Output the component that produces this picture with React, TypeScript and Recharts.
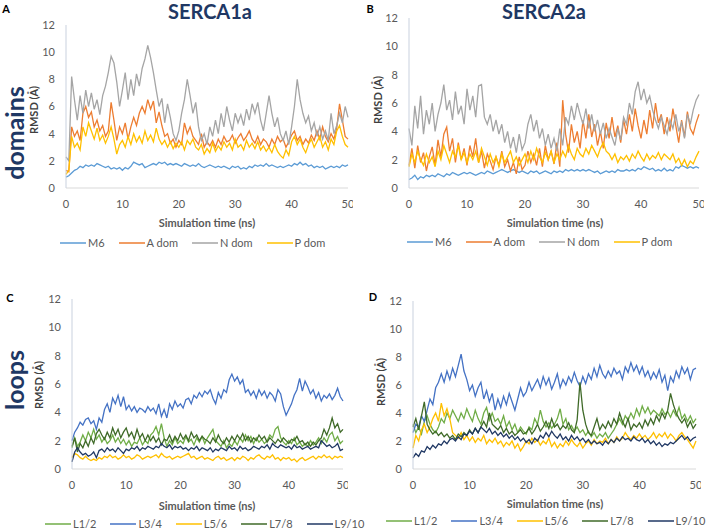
import { LineChart, Line, XAxis, YAxis } from "recharts";

// sample times (ns), every 0.5 ns
const TIME_NS = [
  0, 0.5, 1, 1.5, 2, 2.5, 3, 3.5, 4, 4.5,
  5, 5.5, 6, 6.5, 7, 7.5, 8, 8.5, 9, 9.5,
  10, 10.5, 11, 11.5, 12, 12.5, 13, 13.5, 14, 14.5,
  15, 15.5, 16, 16.5, 17, 17.5, 18, 18.5, 19, 19.5,
  20, 20.5, 21, 21.5, 22, 22.5, 23, 23.5, 24, 24.5,
  25, 25.5, 26, 26.5, 27, 27.5, 28, 28.5, 29, 29.5,
  30, 30.5, 31, 31.5, 32, 32.5, 33, 33.5, 34, 34.5,
  35, 35.5, 36, 36.5, 37, 37.5, 38, 38.5, 39, 39.5,
  40, 40.5, 41, 41.5, 42, 42.5, 43, 43.5, 44, 44.5,
  45, 45.5, 46, 46.5, 47, 47.5, 48, 48.5, 49, 49.5,
  50,
];

// A: SERCA1a domains
const A_M6 = [
  0.8, 0.9, 1.1, 1.3, 1.4, 1.6, 1.5, 1.7, 1.6, 1.7,
  1.6, 1.8, 1.7, 1.6, 1.5, 1.6, 1.4, 1.5, 1.4, 1.5,
  1.3, 1.5, 1.4, 1.6, 1.9, 1.8, 1.7, 1.8, 1.5, 1.6,
  1.7, 1.8, 1.7, 1.9, 1.8, 1.9, 1.7, 1.8, 1.7, 1.8,
  1.7, 1.6, 1.8, 1.7, 1.6, 1.7, 1.6, 1.8, 1.6, 1.5,
  1.6, 1.7, 1.6, 1.5, 1.6, 1.5, 1.6, 1.5, 1.4, 1.6,
  1.5, 1.6, 1.4, 1.5, 1.4, 1.6, 1.5, 1.7, 1.6, 1.7,
  1.6, 1.8, 1.6, 1.7, 1.6, 1.5, 1.6, 1.5, 1.6, 1.7,
  1.6, 1.8, 1.7, 1.9, 1.7, 1.8, 1.6, 1.7, 1.5, 1.6,
  1.5, 1.6, 1.4, 1.5, 1.6, 1.5, 1.6, 1.5, 1.7, 1.6,
  1.7,
];
const A_ADOM = [
  1.3, 1.2, 4.5, 3.8, 4.2, 3.5, 5.5, 6.0, 5.2, 5.6,
  4.5, 5.0, 4.2, 4.6, 3.8, 4.2, 6.3, 5.0, 3.5, 4.5,
  4.0, 4.8, 3.6, 4.5, 5.2, 4.6, 5.5, 6.0, 5.5, 6.5,
  5.8, 6.4, 4.8, 5.6, 4.6, 3.8, 4.0, 3.3, 3.6, 3.0,
  3.5, 3.2, 4.8, 4.0, 4.5, 3.8, 3.5, 3.2, 4.0, 3.0,
  3.4, 3.1, 3.5, 3.0, 3.6, 3.2, 3.8, 3.4, 3.5, 3.9,
  3.3, 3.7, 4.0, 3.5, 3.8, 4.2, 3.6, 3.3, 3.8, 3.2,
  3.6, 3.4, 3.0, 3.6, 3.2, 3.8, 3.4, 3.6, 3.0, 3.4,
  3.9, 4.2, 3.5, 3.8, 3.2, 3.6, 3.3, 3.9, 3.5, 4.2,
  3.6, 4.5, 3.8, 3.4, 4.0, 3.6, 4.4, 6.2, 5.0, 3.8,
  3.6,
];
const A_NDOM = [
  2.3, 2.0, 8.2, 6.5, 5.0, 6.8, 5.5, 7.2, 6.0, 7.0,
  5.8, 6.5, 5.4, 6.8, 7.5, 8.5, 9.7, 9.2, 7.8, 6.0,
  7.2, 8.5, 6.5, 8.0, 6.8, 8.4, 7.5, 8.8, 9.5, 10.5,
  9.6, 8.5, 7.2, 6.0, 6.6, 4.8, 6.2, 5.2, 4.0, 3.5,
  4.2, 5.5, 6.5, 8.0, 6.8, 5.5, 6.3, 4.5, 3.5, 4.0,
  3.2, 4.5, 3.8, 5.0, 4.0, 5.5, 4.5, 6.0, 5.0, 4.2,
  5.5, 4.8, 5.4, 4.6, 5.8, 5.0, 6.2, 5.5, 6.3, 5.0,
  4.2, 5.5, 6.8, 5.5, 4.5, 5.2, 4.0, 3.5, 4.2, 3.2,
  4.5, 6.0, 8.0, 6.5, 5.5, 4.8, 5.3, 4.2, 4.8, 3.8,
  4.5, 3.6, 4.2, 3.5, 5.5, 4.0, 4.6, 5.5, 4.8, 6.0,
  5.2,
];
const A_PDOM = [
  1.0, 1.3, 3.8, 3.0, 3.3, 2.8, 4.5, 3.8, 4.8, 4.2,
  3.6, 4.4, 3.5, 3.9, 3.3, 3.8, 4.5, 3.6, 2.5, 3.2,
  3.5, 3.0, 3.8, 3.2, 4.0, 3.4, 3.8, 3.3, 4.2, 3.5,
  3.9, 3.4, 4.4, 3.6, 3.2, 3.5, 3.0, 3.4, 2.9, 3.3,
  3.0, 3.4, 2.8, 3.5, 3.2, 3.6, 3.0, 2.8, 3.2, 2.5,
  2.9, 2.6, 3.3, 2.7, 3.1, 2.8, 3.4, 3.0, 3.3, 2.8,
  3.6, 3.0, 3.2, 2.8, 3.5, 3.0, 3.3, 2.9, 3.4, 2.8,
  3.1, 2.7, 3.0, 2.6, 3.2, 2.7, 2.4, 2.2, 2.8, 2.4,
  3.4, 3.8, 3.2, 3.6, 3.0, 2.6, 3.2, 3.6, 3.0, 3.4,
  3.8, 3.0, 3.4, 2.8, 3.6, 3.2, 4.2, 4.6, 3.8, 3.2,
  3.0,
];

// B: SERCA2a domains
const B_M6 = [
  0.6, 0.7, 0.9, 0.6, 0.8, 0.7, 0.9, 0.8, 0.9, 0.8,
  1.0, 0.9, 0.8, 1.0, 0.9, 1.1, 1.0, 0.9, 1.0, 1.1,
  1.0, 1.1, 1.0, 0.9, 1.0, 1.1, 1.0, 1.2, 1.1, 1.0,
  1.1, 1.2, 1.3, 1.2, 1.1, 1.2, 1.3, 1.2, 1.1, 1.2,
  1.1, 1.0, 1.2, 1.1, 1.2, 1.0, 1.1, 1.2, 1.1, 1.0,
  1.2, 1.1, 1.2, 1.1, 1.3, 1.2, 1.3, 1.2, 1.3, 1.2,
  1.3, 1.2, 1.3, 1.2, 1.1, 1.2, 1.0, 1.1, 1.2, 1.1,
  1.2, 1.1, 1.3, 1.2, 1.2, 1.3, 1.2, 1.3, 1.2, 1.4,
  1.3, 1.5, 1.4, 1.3, 1.4, 1.2, 1.3, 1.2, 1.4, 1.2,
  1.3, 1.2, 1.5, 1.4, 1.6, 1.5, 1.4, 1.5, 1.4, 1.5,
  1.4,
];
const B_ADOM = [
  1.6, 2.8, 1.4, 3.0, 1.8, 2.5, 1.2, 2.2, 2.9, 1.6,
  3.4, 2.2, 3.8, 4.3, 2.6, 3.5, 1.8, 3.2, 2.0, 2.8,
  1.6, 3.0, 2.2, 3.5, 1.8, 2.6, 1.4, 2.4, 1.9, 1.3,
  2.2, 1.6, 2.6, 1.5, 2.0, 1.2, 1.8, 1.0, 2.2, 1.3,
  1.6, 2.6, 1.8, 2.4, 1.6, 2.8, 1.5, 3.0, 2.0, 2.6,
  1.7, 3.2, 1.5, 6.2, 3.8, 2.5, 4.5, 3.2, 4.0, 2.8,
  4.8, 3.5, 5.2, 3.6, 4.5, 3.0, 4.0, 2.8, 4.6, 3.5,
  5.0, 3.6, 4.4, 3.2, 4.8, 3.8, 5.2, 4.0, 5.6, 4.4,
  3.5, 4.8, 3.8, 5.5, 4.2, 6.0, 4.6, 5.2, 3.8, 5.0,
  4.0, 5.6, 4.4, 3.2, 4.8, 3.6, 5.4, 4.2, 3.8, 4.6,
  5.2,
];
const B_NDOM = [
  4.2, 3.0, 5.8, 4.2, 6.5, 3.8, 5.5, 4.5, 6.0, 4.0,
  5.2, 6.0, 7.3, 5.5, 6.2, 4.8, 6.8, 5.2, 5.8, 4.5,
  7.0, 5.5, 6.5, 5.0, 7.2, 7.3, 5.0, 4.5, 5.2, 4.0,
  4.8, 3.8, 4.5, 3.2, 4.0, 2.8, 3.6, 2.5, 3.8, 2.7,
  3.2, 4.5, 5.2, 4.0, 4.8, 3.5, 4.2, 3.0, 3.8, 2.8,
  3.5, 2.6, 4.2, 3.0, 5.0, 4.5, 5.8, 4.8, 6.0, 5.2,
  4.5, 5.6, 4.2, 5.2, 4.0, 4.8, 3.8, 4.6, 3.5, 4.2,
  3.6, 3.0, 4.2, 3.4, 5.0, 4.5, 6.0, 5.2, 6.8, 7.5,
  6.2, 7.0, 6.0, 6.5, 5.5, 4.8, 4.2, 5.0, 4.4, 3.8,
  4.8, 4.2, 5.2, 4.0, 4.6, 3.5, 5.2, 4.5, 5.5, 6.2,
  6.6,
];
const B_PDOM = [
  1.5, 2.4, 1.8, 2.6, 2.0, 1.6, 2.4, 1.8, 2.2, 1.5,
  2.6, 2.0, 3.0, 2.4, 1.8, 2.6, 2.2, 3.0, 2.0, 2.5,
  1.8, 2.4, 2.0, 2.6, 1.8, 2.8, 2.2, 1.6, 2.4, 1.8,
  2.2, 1.5, 2.4, 1.8, 2.2, 2.6, 1.8, 2.2, 1.6, 2.0,
  2.4, 1.8, 2.6, 2.0, 2.8, 2.2, 1.8, 2.5, 2.0, 2.6,
  1.8, 2.4, 2.0, 2.6, 2.2, 3.0, 2.4, 2.0, 2.8, 2.4,
  2.2, 2.8, 2.4, 3.0, 2.6, 2.2, 2.8, 3.2, 2.6, 2.4,
  2.0, 2.4, 1.8, 2.2, 2.0, 2.3, 1.9, 2.4, 2.1, 2.6,
  2.2, 1.9, 2.4, 2.0, 2.3, 2.1, 2.5, 2.0, 2.4, 2.2,
  2.0, 2.4, 1.8, 2.1, 1.6, 2.0, 1.5, 1.9, 1.7, 2.2,
  2.6,
];

// C: SERCA1a loops
const C_L12 = [
  1.5, 2.2, 1.6, 1.9, 2.4, 2.0, 2.6, 2.2, 2.8, 2.1,
  2.4, 1.9, 2.2, 1.8, 2.0, 2.4, 1.9, 2.2, 1.8, 2.1,
  1.7, 2.0, 1.6, 1.9, 1.8, 2.2, 1.7, 2.0, 1.8, 2.4,
  2.6, 3.0, 2.4, 3.2, 2.2, 1.6, 2.0, 1.7, 2.2, 1.8,
  2.0, 1.8, 2.3, 1.9, 2.1, 1.7, 2.2, 1.9, 2.3, 1.8,
  2.2, 2.5, 2.8, 2.0, 1.8, 1.6, 2.0, 1.5, 1.8, 1.6,
  2.0, 1.7, 2.2, 1.9, 2.4, 2.0, 2.3, 1.8, 2.2, 1.9,
  2.1, 1.8, 2.0, 2.4, 2.2, 2.8, 3.0, 2.2, 1.9, 1.7,
  2.0, 1.8, 2.2, 1.7, 1.9, 1.6, 1.8, 1.6, 2.0, 1.7,
  1.9, 2.2, 1.8, 2.2, 1.9, 2.4, 2.6, 2.0, 2.3, 1.8,
  2.0,
];
const C_L34 = [
  2.0, 2.6, 2.9, 3.3, 3.1, 3.5, 3.6, 3.2, 3.4, 2.8,
  3.6, 3.3, 4.2, 4.6, 4.0, 5.0, 4.6, 5.2, 4.4, 5.1,
  4.2, 4.5, 4.1, 4.4, 4.0, 4.3, 4.2, 4.0, 4.4, 4.1,
  4.3, 3.9, 4.6, 3.7, 4.2, 3.6, 4.6, 4.2, 4.8, 4.4,
  4.6, 4.3, 4.9, 5.0, 4.6, 5.2, 5.0, 5.4, 5.1, 5.5,
  5.3, 5.6, 5.0, 4.6, 5.4, 5.0, 5.6, 5.4, 6.3, 6.7,
  6.2, 6.5, 6.0, 6.3, 5.4, 5.6, 5.2, 5.5, 5.0, 5.6,
  5.2, 5.5, 5.0, 5.4, 5.2, 4.8, 5.6, 5.3, 4.4, 3.8,
  4.2, 4.6, 5.2, 5.6, 6.4, 5.5, 6.2, 5.8, 5.3, 5.6,
  5.0, 5.4, 4.8, 5.2, 5.0, 5.3, 4.9, 5.2, 5.7, 5.1,
  4.8,
];
const C_L56 = [
  0.8, 1.1, 1.0, 0.8, 0.7, 0.9, 0.7, 0.6, 0.7, 0.6,
  0.8, 0.7, 0.9, 0.8, 1.0, 0.8, 0.9, 0.7, 0.8, 1.0,
  0.8, 0.9, 0.7, 0.8, 1.0, 0.9, 0.7, 0.8, 0.9, 0.8,
  0.9, 1.0, 0.8, 1.1, 0.9, 0.8, 0.9, 0.7, 0.8, 0.9,
  0.8, 0.9, 1.0, 1.1, 0.8, 0.9, 0.7, 0.8, 0.9, 0.7,
  0.8, 0.7, 0.6, 0.8, 0.9, 0.7, 0.8, 0.6, 0.7, 0.8,
  0.6, 0.8, 0.7, 0.9, 0.8, 0.6, 0.8, 0.7, 0.9, 1.0,
  0.8, 0.7, 0.9, 0.8, 1.0, 0.7, 0.8, 0.6, 0.8, 0.7,
  0.8, 0.6, 0.7, 0.5, 0.7, 0.8, 0.6, 0.7, 0.8, 0.9,
  0.7, 0.9, 0.8, 1.0, 0.8, 0.9, 0.7, 0.9, 0.8, 0.9,
  0.8,
];
const C_L78 = [
  1.6, 2.2, 1.2, 1.8, 1.5, 2.0, 1.6, 2.2, 1.8, 2.5,
  2.8, 2.4, 2.1, 2.6, 2.2, 2.9, 2.4, 2.8, 2.2, 2.6,
  2.9, 2.3, 2.6, 2.1, 2.8, 2.2, 2.5, 2.0, 2.4, 2.0,
  2.3, 1.9, 2.2, 1.7, 2.1, 2.0, 2.4, 1.9, 2.3, 2.0,
  2.5, 2.1, 2.4, 2.0, 2.6, 2.2, 2.4, 2.0, 2.3, 2.1,
  2.0, 1.8, 2.2, 1.9, 2.4, 2.0, 1.8, 2.2, 1.9, 2.3,
  2.0, 2.4, 2.1, 2.5, 2.0, 2.3, 1.9, 2.2, 2.0, 2.4,
  2.1, 2.3, 1.9, 2.2, 2.0, 1.8, 2.1, 1.9, 2.2, 2.0,
  1.8, 2.1, 2.0, 2.3, 1.9, 2.0, 1.7, 1.9, 1.6, 1.9,
  1.7, 2.0, 2.2, 2.8, 2.4, 2.9, 3.6, 2.9, 3.2, 2.6,
  2.8,
];
const C_L910 = [
  0.5, 1.2, 1.5, 1.2, 1.0, 1.1, 0.9, 1.0, 1.2, 0.8,
  1.3, 1.4, 1.2, 1.5, 1.3, 1.4, 1.2, 1.5, 1.3, 1.1,
  1.4, 1.3, 1.5, 1.4, 1.6, 1.3, 1.5, 1.4, 1.6, 1.5,
  1.4, 1.6, 1.5, 1.8, 1.6, 1.5, 1.7, 1.4, 1.6, 1.5,
  1.6, 1.4, 1.5, 1.3, 1.5, 1.4, 1.6, 1.3, 1.5, 1.4,
  1.3, 1.5, 1.2, 1.4, 1.3, 1.5, 1.4, 1.3, 1.6, 1.4,
  1.5, 1.3, 1.6, 1.4, 1.5, 1.3, 1.4, 1.6, 1.5, 1.4,
  1.6, 1.5, 1.7, 1.4, 1.8, 1.6, 1.5, 1.7, 1.6, 1.5,
  1.6, 1.4, 1.7, 1.5, 1.6, 1.4, 1.5, 1.6, 1.4, 1.5,
  1.6, 1.5, 2.0, 1.8, 1.6, 1.7, 1.5, 1.6, 1.8, 1.3,
  1.4,
];

// D: SERCA2a loops
const D_L12 = [
  3.2, 2.6, 3.0, 2.5, 3.4, 3.8, 3.2, 2.8, 2.6, 3.0,
  3.6, 3.3, 4.0, 3.6, 4.2, 3.8, 3.4, 4.0, 3.6, 4.3,
  3.8, 3.4, 4.2, 3.6, 3.2, 4.0, 4.4, 3.5, 4.0, 3.4,
  3.6, 3.2, 3.8, 3.0, 3.4, 2.8, 3.2, 2.6, 3.0, 2.7,
  2.5, 3.0, 2.8, 3.6, 3.2, 4.2, 3.4, 3.0, 3.3, 2.9,
  3.2, 3.6, 4.3, 3.2, 3.6, 2.8, 3.1, 2.7, 3.0, 2.6,
  2.8, 2.4, 2.7, 2.3, 2.6, 2.2, 2.5, 2.3, 2.6, 2.2,
  2.5, 2.8, 3.2, 3.6, 3.2, 3.8, 3.5, 4.0, 3.6, 4.3,
  3.8, 4.5, 4.0, 4.4, 3.9, 4.2, 4.0, 3.8, 4.3, 3.9,
  4.1, 3.7, 4.2, 3.8, 4.4, 3.6, 3.9, 3.4, 3.8, 3.3,
  3.6,
];
const D_L34 = [
  2.6, 3.2, 3.0, 3.8, 3.4, 4.2, 5.0, 4.6, 5.8, 6.2,
  6.8, 6.2, 7.0, 6.4, 7.2, 6.6, 7.4, 8.2, 7.0, 6.4,
  5.6, 6.0, 5.2, 5.8, 6.2, 5.0, 5.6, 4.8, 5.4, 4.2,
  5.0, 4.4, 5.2, 4.6, 5.4, 4.8, 4.2, 5.0, 5.8, 5.2,
  5.5, 6.2, 5.6, 6.0, 6.4, 5.8, 6.6, 6.0, 6.5, 5.7,
  6.2, 6.8, 5.8, 6.4, 6.0, 6.6, 6.2, 6.9, 6.3, 5.9,
  6.6, 6.1, 6.8, 6.4, 7.2, 6.6, 7.4, 6.8, 6.5, 7.0,
  6.6, 7.2, 6.8, 7.0, 6.4, 7.3, 6.9, 7.6, 7.0, 7.4,
  6.8, 7.3, 6.6, 7.0, 6.4, 6.9, 6.5, 7.1, 6.2, 6.7,
  5.6, 6.6, 6.2, 7.0, 6.5, 7.3, 6.8, 7.2, 6.4, 7.1,
  7.2,
];
const D_L56 = [
  1.5, 2.4, 2.0, 2.8, 3.2, 2.6, 3.0, 3.6, 4.0, 3.4,
  4.7, 3.8, 4.3, 3.6, 2.6, 2.4, 2.2, 2.6, 2.1, 2.4,
  2.0, 2.3, 1.9, 2.2, 2.0, 2.4, 1.8, 2.1, 1.9, 2.2,
  1.8, 2.0, 1.6, 1.9, 1.7, 2.0, 1.5, 1.8, 1.3, 1.6,
  2.0, 1.8, 2.2, 1.9, 2.1, 1.7, 2.0, 1.8, 2.2, 1.6,
  1.9, 1.5, 1.8, 1.6, 2.0, 1.7, 2.1, 1.8, 1.6, 1.9,
  1.5, 1.8, 2.0, 1.7, 2.1, 1.8, 2.0, 1.9, 2.2, 1.8,
  2.1, 1.9, 2.3, 2.0, 2.2, 2.6, 2.3, 2.1, 2.4, 2.2,
  2.5, 2.2, 2.4, 2.1, 2.3, 2.6, 2.2, 2.5, 2.3, 2.6,
  2.2, 2.5, 2.3, 2.0, 2.4, 2.6, 2.3, 2.1, 1.8, 1.5,
  2.0,
];
const D_L78 = [
  3.0, 3.6, 2.8, 3.8, 4.8, 3.2, 2.8, 2.5, 2.7, 2.4,
  2.6, 2.3, 2.5, 2.2, 2.4, 2.1, 2.5, 2.3, 2.6, 2.4,
  2.8, 2.5, 2.9, 2.6, 3.0, 3.4, 3.0, 4.0, 3.2, 3.0,
  2.8, 3.1, 2.6, 2.9, 2.5, 2.7, 2.4, 2.6, 2.8, 2.5,
  2.6, 2.9, 2.5, 2.8, 3.2, 2.7, 3.0, 3.4, 2.9, 3.6,
  3.0, 3.2, 2.8, 3.1, 2.9, 3.3, 2.8, 2.6, 3.5, 6.2,
  4.2, 3.2, 2.6, 2.4, 3.0, 3.6, 2.8, 3.2, 2.9, 3.4,
  3.0, 3.6, 3.2, 4.0, 3.4, 3.0, 3.6, 2.8, 3.2, 3.0,
  3.3, 2.9, 3.5, 3.1, 3.6, 3.2, 3.8, 3.4, 4.0, 3.6,
  4.2, 5.4, 4.6, 4.0, 3.6, 3.3, 3.6, 3.0, 3.4, 2.9,
  3.2,
];
const D_L910 = [
  0.8, 1.1, 0.9, 1.3, 1.2, 1.6, 1.4, 1.7, 1.5, 1.8,
  1.7, 2.0, 1.8, 2.1, 2.2, 2.0, 2.3, 2.1, 2.5, 2.4,
  2.7, 2.5, 2.9, 2.6, 3.0, 2.8, 2.6, 2.9, 2.5, 2.7,
  2.4, 2.6, 2.3, 2.5, 2.2, 2.4, 2.1, 2.3, 2.0, 2.2,
  1.9, 2.1, 1.8, 2.2, 2.0, 2.4, 2.2, 2.6, 2.3, 2.7,
  2.4, 2.2, 2.5, 2.1, 2.3, 2.0, 2.4, 2.1, 2.3, 2.0,
  2.2, 1.9, 2.1, 1.8, 2.0, 1.8, 1.9, 1.7, 2.0, 1.8,
  2.1, 1.9, 2.2, 2.0, 2.3, 2.1, 2.2, 2.0, 2.3, 2.1,
  2.0, 2.2, 1.9, 2.1, 1.8, 2.0, 1.7, 1.9, 1.6, 1.8,
  1.7, 1.9, 1.8, 2.0, 2.2, 2.4, 2.1, 2.3, 2.0, 2.2,
  2.3,
];

const DOMAIN_NAMES = ["M6", "A dom", "N dom", "P dom"];
const LOOP_NAMES = ["L1/2", "L3/4", "L5/6", "L7/8", "L9/10"];
const X_TICKS = [0, 10, 20, 30, 40, 50];
const Y_TICKS = [0, 2, 4, 6, 8, 10, 12];

const DOMAIN_COLORS = ["#5B9BD5", "#ED7D31", "#A5A5A5", "#FFC000"];
const LOOP_COLORS = ["#70AD47", "#4472C4", "#FFC000", "#3F6A28", "#203864"];

const FONT = "Lato, 'Open Sans', sans-serif";
const TICK_COLOR = "#595959";
const AXIS_COLOR = "#D9D9D9";
const NAVY = "#1F3864";

function buildRows(series: number[][]) {
  return TIME_NS.map((t, i) => {
    const row: Record<string, number> = { t };
    series.forEach((s, k) => {
      row["s" + k] = s[i];
    });
    return row;
  });
}

type Box = { left: number; top: number; right: number; bottom: number };

function Panel({
  chartLeft,
  chartTop,
  plot,
  series,
  colors,
}: {
  chartLeft: number;
  chartTop: number;
  plot: Box;
  series: number[][];
  colors: string[];
}) {
  const data = buildRows(series);
  return (
    <div style={{ position: "absolute", left: chartLeft, top: chartTop }}>
      <LineChart
        width={plot.right + 5 - chartLeft}
        height={plot.bottom + 30 - chartTop}
        data={data}
        margin={{ top: plot.top - chartTop, right: 5, bottom: 0, left: 0 }}
        style={{ fontFamily: FONT }}
      >
        <XAxis
          type="number"
          dataKey="t"
          domain={[0, 50]}
          ticks={X_TICKS}
          interval={0}
          height={30}
          tickLine={false}
          axisLine={{ stroke: AXIS_COLOR }}
          tick={{ fontSize: 11, fill: TICK_COLOR }}
          tickMargin={6}
        />
        <YAxis
          type="number"
          domain={[0, 12]}
          ticks={Y_TICKS}
          interval={0}
          width={plot.left - chartLeft}
          tickLine={false}
          axisLine={{ stroke: "#C9D1DE" }}
          tick={{ fontSize: 11, fill: TICK_COLOR }}
          tickMargin={5}
        />
        {series.map((_, k) => (
          <Line
            key={k}
            type="linear"
            dataKey={"s" + k}
            stroke={colors[k]}
            strokeWidth={1.3}
            dot={false}
            isAnimationActive={false}
          />
        ))}
      </LineChart>
    </div>
  );
}

function LegendRow({
  left,
  top,
  names,
  colors,
}: {
  left: number;
  top: number;
  names: string[];
  colors: string[];
}) {
  return (
    <div
      style={{
        position: "absolute",
        left,
        top,
        display: "flex",
        gap: 14,
        alignItems: "center",
        fontFamily: FONT,
        fontSize: 11,
        color: TICK_COLOR,
        whiteSpace: "nowrap",
        lineHeight: "12px",
      }}
    >
      {names.map((n, i) => (
        <div key={n} style={{ display: "flex", alignItems: "center" }}>
          <svg width={26} height={4}>
            <line x1={0} y1={2} x2={26} y2={2} stroke={colors[i]} strokeWidth={1.5} />
          </svg>
          <span style={{ marginLeft: 2 }}>{n}</span>
        </div>
      ))}
    </div>
  );
}

function Txt({
  x,
  y,
  children,
  size,
  bold,
  color,
  rotate,
}: {
  x: number;
  y: number;
  children: string;
  size: number;
  bold?: boolean;
  color: string;
  rotate?: boolean;
}) {
  return (
    <div
      style={{
        position: "absolute",
        left: x,
        top: y,
        transform: `translate(-50%, -50%)${rotate ? " rotate(-90deg)" : ""}`,
        fontFamily: FONT,
        fontSize: size,
        fontWeight: bold ? 700 : 400,
        color,
        whiteSpace: "nowrap",
        lineHeight: 1,
      }}
    >
      {children}
    </div>
  );
}

export default function App() {
  return (
    <div
      style={{
        position: "absolute",
        left: 0,
        top: 0,
        width: 708,
        height: 531,
        background: "#fff",
        overflow: "hidden",
      }}
    >
      <Panel
        chartLeft={0}
        chartTop={0}
        plot={{ left: 66, top: 25, right: 348, bottom: 188 }}
        series={[A_M6, A_ADOM, A_NDOM, A_PDOM]}
        colors={DOMAIN_COLORS}
      />
      <Panel
        chartLeft={350}
        chartTop={0}
        plot={{ left: 409, top: 18, right: 699, bottom: 188 }}
        series={[B_M6, B_ADOM, B_NDOM, B_PDOM]}
        colors={DOMAIN_COLORS}
      />
      <Panel
        chartLeft={0}
        chartTop={270}
        plot={{ left: 72, top: 299, right: 343, bottom: 469 }}
        series={[C_L12, C_L34, C_L56, C_L78, C_L910]}
        colors={LOOP_COLORS}
      />
      <Panel
        chartLeft={350}
        chartTop={270}
        plot={{ left: 413, top: 301, right: 696, bottom: 469 }}
        series={[D_L12, D_L34, D_L56, D_L78, D_L910]}
        colors={LOOP_COLORS}
      />

      <Txt x={210} y={11} size={20} bold color={NAVY}>SERCA1a</Txt>
      <Txt x={544} y={11} size={20} bold color={NAVY}>SERCA2a</Txt>
      <Txt x={14} y={133} size={25} bold color={NAVY} rotate>domains</Txt>
      <Txt x={14} y={380} size={25} bold color={NAVY} rotate>loops</Txt>

      <Txt x={6} y={8} size={11} bold color="#000">A</Txt>
      <Txt x={370} y={8} size={11} bold color="#000">B</Txt>
      <Txt x={10} y={297} size={11} bold color="#000">C</Txt>
      <Txt x={373} y={296} size={11} bold color="#000">D</Txt>

      <Txt x={33} y={110} size={11} bold color="#404040" rotate>RMSD (Å)</Txt>
      <Txt x={377} y={100} size={11} bold color="#404040" rotate>RMSD (Å)</Txt>
      <Txt x={38} y={385} size={11} bold color="#404040" rotate>RMSD (Å)</Txt>
      <Txt x={380} y={382} size={11} bold color="#404040" rotate>RMSD (Å)</Txt>

      <Txt x={207} y={222} size={11} bold color={TICK_COLOR}>Simulation time (ns)</Txt>
      <Txt x={555} y={222} size={11} bold color={TICK_COLOR}>Simulation time (ns)</Txt>
      <Txt x={207} y={505} size={11} bold color={TICK_COLOR}>Simulation time (ns)</Txt>
      <Txt x={555} y={503} size={11} bold color={TICK_COLOR}>Simulation time (ns)</Txt>

      <LegendRow left={60} top={237} names={DOMAIN_NAMES} colors={DOMAIN_COLORS} />
      <LegendRow left={407} top={236} names={DOMAIN_NAMES} colors={DOMAIN_COLORS} />
      <LegendRow left={45} top={518} names={LOOP_NAMES} colors={LOOP_COLORS} />
      <LegendRow left={386} top={515} names={LOOP_NAMES} colors={LOOP_COLORS} />
    </div>
  );
}
